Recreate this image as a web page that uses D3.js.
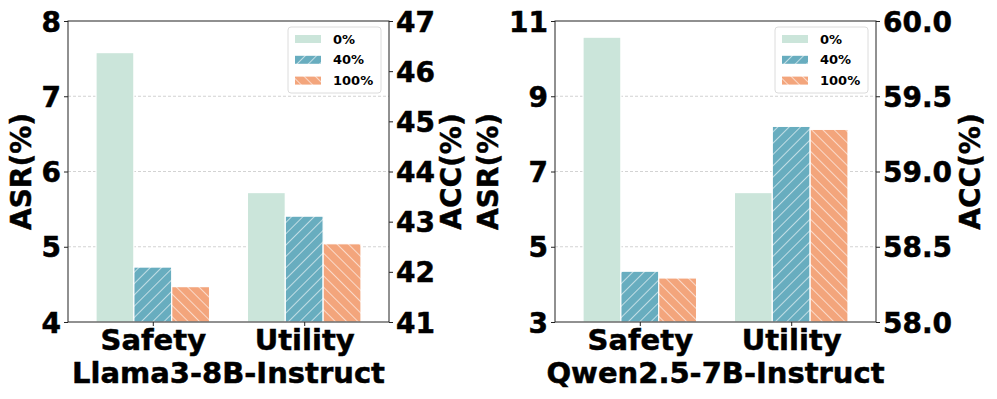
<!DOCTYPE html>
<html>
<head>
<meta charset="utf-8">
<script src="https://cdn.jsdelivr.net/npm/d3@7"></script>
<style>
  body { margin: 0; background: #fff; }
  text { font-family: "DejaVu Sans", sans-serif; font-weight: bold; fill: #000; }
  .heavy { stroke: #000; stroke-width: 0.5px; }
</style>
</head>
<body>
<div id="chart"></div>
<script>
// DATA
const groups = ["Safety", "Utility"];
const ratios = ["0%", "40%", "100%"];
const llamaASR = [7.58, 4.73, 4.47];
const llamaACC = [43.58, 43.11, 42.56];
const qwenASR = [10.57, 4.35, 4.17];
const qwenACC = [58.86, 59.30, 59.28];
const llamaAsrTicks = [4, 5, 6, 7, 8];
const llamaAccTicks = [41, 42, 43, 44, 45, 46, 47];
const qwenAsrTicks = [3, 5, 7, 9, 11];
const qwenAccTicks = [58.0, 58.5, 59.0, 59.5, 60.0];

const colors = ["#cbe5da", "#68adbf", "#f3a57c"];
const fills = ["url(#none)", "url(#hatchF)", "url(#hatchB)"];

const width = 997;
const height = 399;

const svg = d3.select('#chart')
  .append('svg')
  .attr('width', width)
  .attr('height', height);

// HATCH PATTERNS
const defs = svg.append('defs');
const makeHatch = (id, color, angle) => {
  const p = defs.append('pattern')
    .attr('id', id)
    .attr('patternUnits', 'userSpaceOnUse')
    .attr('width', 8)
    .attr('height', 8)
    .attr('patternTransform', `rotate(${angle})`);
  p.append('rect').attr('width', 8).attr('height', 8).attr('fill', color);
  p.append('line')
    .attr('x1', 0).attr('y1', 0).attr('x2', 0).attr('y2', 8)
    .attr('stroke', '#fff').attr('stroke-width', 1.2);
};
makeHatch('hatchF', colors[1], 45);
makeHatch('hatchB', colors[2], -45);

const panels = [
  { left: 68, asr: llamaASR, acc: llamaACC, asrTicks: llamaAsrTicks, accTicks: llamaAccTicks,
    accFmt: d3.format('d'), title: 'Llama3-8B-Instruct', asrLabelX: 31, accLabelX: 461 },
  { left: 555, asr: qwenASR, acc: qwenACC, asrTicks: qwenAsrTicks, accTicks: qwenAccTicks,
    accFmt: d3.format('.1f'), title: 'Qwen2.5-7B-Instruct', asrLabelX: 498, accLabelX: 980 }
];

const plotTop = 21;
const plotH = 301;
const plotW = 321;

panels.forEach(panel => {
  const g = svg.append('g').attr('transform', `translate(${panel.left},${plotTop})`);

  const xScale = d3.scaleLinear().domain([-0.56, 1.56]).range([0, plotW]);
  const yLeft = d3.scaleLinear()
    .domain(d3.extent(panel.asrTicks))
    .range([plotH, 0]);
  const yRight = d3.scaleLinear()
    .domain(d3.extent(panel.accTicks))
    .range([plotH, 0]);

  // GRID
  g.append('g')
    .selectAll('line')
    .data(panel.asrTicks.slice(1, -1))
    .enter()
    .append('line')
    .attr('x1', 0).attr('x2', plotW)
    .attr('y1', d => yLeft(d)).attr('y2', d => yLeft(d))
    .attr('stroke', '#c8c8c8')
    .attr('stroke-width', 0.8)
    .attr('stroke-dasharray', '3,2');

  // BARS
  const barW = 0.25;
  const series = [panel.asr, panel.acc];
  const scales = [yLeft, yRight];
  groups.forEach((grp, gi) => {
    ratios.forEach((r, ri) => {
      const v = series[gi][ri];
      const ys = scales[gi];
      const x0 = xScale(gi + (ri - 1) * barW - barW / 2);
      const x1 = xScale(gi + (ri - 1) * barW + barW / 2);
      g.append('rect')
        .attr('x', x0)
        .attr('y', ys(v))
        .attr('width', x1 - x0)
        .attr('height', plotH - ys(v))
        .attr('fill', ri === 0 ? colors[0] : fills[ri])
        .attr('stroke', '#fff')
        .attr('stroke-width', 1.2);
    });
  });

  // AXES
  const axisLeft = g.append('g')
    .call(d3.axisLeft(yLeft).tickValues(panel.asrTicks).tickSize(4).tickPadding(3).tickFormat(d3.format('d')));
  const axisRight = g.append('g')
    .attr('transform', `translate(${plotW},0)`)
    .call(d3.axisRight(yRight).tickValues(panel.accTicks).tickSize(4).tickPadding(3).tickFormat(panel.accFmt));
  const axisBottom = g.append('g')
    .attr('transform', `translate(0,${plotH})`)
    .call(d3.axisBottom(xScale).tickValues([0, 1]).tickSize(4).tickFormat((d, i) => groups[i]));

  [axisLeft, axisRight, axisBottom].forEach(ax => {
    ax.select('.domain').remove();
    ax.selectAll('line').attr('stroke', '#222').attr('stroke-width', 1);
    ax.selectAll('text').style('font-size', '28px').attr('fill', '#000').attr('class', 'heavy');
  });
  axisLeft.selectAll('text').attr('dy', '0.36em');
  axisRight.selectAll('text').attr('dy', '0.36em');
  axisBottom.selectAll('text').attr('y', 28).attr('dy', 0).style('font-size', '29px');

  // FRAME
  g.append('rect')
    .attr('width', plotW).attr('height', plotH)
    .attr('fill', 'none')
    .attr('stroke', '#222')
    .attr('stroke-width', 1);

  // LABELS
  svg.append('text')
    .attr('class', 'heavy')
    .attr('transform', `translate(${panel.asrLabelX},${plotTop + plotH / 2}) rotate(-90)`)
    .attr('text-anchor', 'middle')
    .style('font-size', '28px')
    .text('ASR(%)');
  svg.append('text')
    .attr('class', 'heavy')
    .attr('transform', `translate(${panel.accLabelX},${plotTop + plotH / 2}) rotate(-90)`)
    .attr('text-anchor', 'middle')
    .style('font-size', '28px')
    .text('ACC(%)');
  svg.append('text')
    .attr('class', 'heavy')
    .attr('x', panel.left + plotW / 2)
    .attr('y', 383)
    .attr('text-anchor', 'middle')
    .style('font-size', '29px')
    .text(panel.title);

  // LEGEND
  const lg = g.append('g').attr('transform', `translate(${plotW - 101},6)`);
  lg.append('rect')
    .attr('width', 93).attr('height', 66)
    .attr('rx', 3)
    .attr('fill', '#fff')
    .attr('fill-opacity', 0.8)
    .attr('stroke', '#dcdcdc')
    .attr('stroke-width', 1);
  ratios.forEach((r, ri) => {
    const cy = 12 + ri * 20.8;
    lg.append('rect')
      .attr('x', 7).attr('y', cy - 4)
      .attr('width', 26).attr('height', 8)
      .attr('fill', ri === 0 ? colors[0] : fills[ri]);
    lg.append('text')
      .attr('x', 45).attr('y', cy)
      .attr('dy', '0.36em')
      .style('font-size', '13px')
      .text(r);
  });
});
</script>
</body>
</html>
